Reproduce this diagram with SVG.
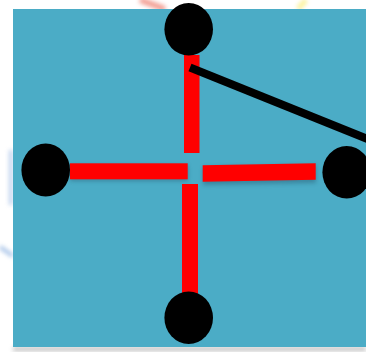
<svg xmlns="http://www.w3.org/2000/svg" width="366" height="352" viewBox="0 0 366 352">
<defs>
<style>
.bar{fill:#ff0000}
.node{fill:#000000}
</style>
<filter id="blur" x="-50%" y="-50%" width="200%" height="200%"><feGaussianBlur stdDeviation="2"/></filter>
</defs>
<rect width="366" height="352" fill="#ffffff"/>
<g filter="url(#blur)" opacity="0.55">
<line x1="140" y1="0" x2="165" y2="9" stroke="#e8503a" stroke-width="6"/>
<line x1="298" y1="9" x2="306" y2="0" stroke="#f7e84a" stroke-width="5"/>
<rect x="9" y="150" width="4" height="55" fill="#8aaee0"/>
<line x1="0" y1="247" x2="13" y2="256" stroke="#6a9ad8" stroke-width="4"/>
<rect x="13" y="347" width="353" height="4" fill="#8a8a8a"/>
</g>
<rect x="13" y="9" width="353" height="338" fill="#4bacc6"/>
<g id="connectors">
<g filter="url(#blur)" opacity="0.35"><rect x="70" y="165" width="118" height="16" fill="#1a3f55"/><polygon points="203,167 316,165 316,183 203,185" fill="#1a3f55"/></g>
<rect class="bar" x="184" y="55" width="15.5" height="98"/>
<rect class="bar" x="70" y="163.3" width="117.7" height="16"/>
<polygon class="bar" points="202.7,165.3 315.7,163.3 315.7,179.8 202.7,181.8"/>
<rect class="bar" x="182" y="184" width="16" height="110"/>
<line x1="190" y1="67.5" x2="370" y2="140" stroke="#000000" stroke-width="8"/>
</g>
<g id="node-top"><ellipse class="node" cx="188.7" cy="29.3" rx="24.3" ry="26.3"/></g>
<g id="node-left"><ellipse class="node" cx="45.7" cy="170" rx="24.3" ry="26.5"/></g>
<g id="node-right"><ellipse class="node" cx="346.7" cy="172.3" rx="24.3" ry="26.3"/></g>
<g id="node-bottom"><ellipse class="node" cx="188.7" cy="317.7" rx="24.3" ry="26.3"/></g>
</svg>
